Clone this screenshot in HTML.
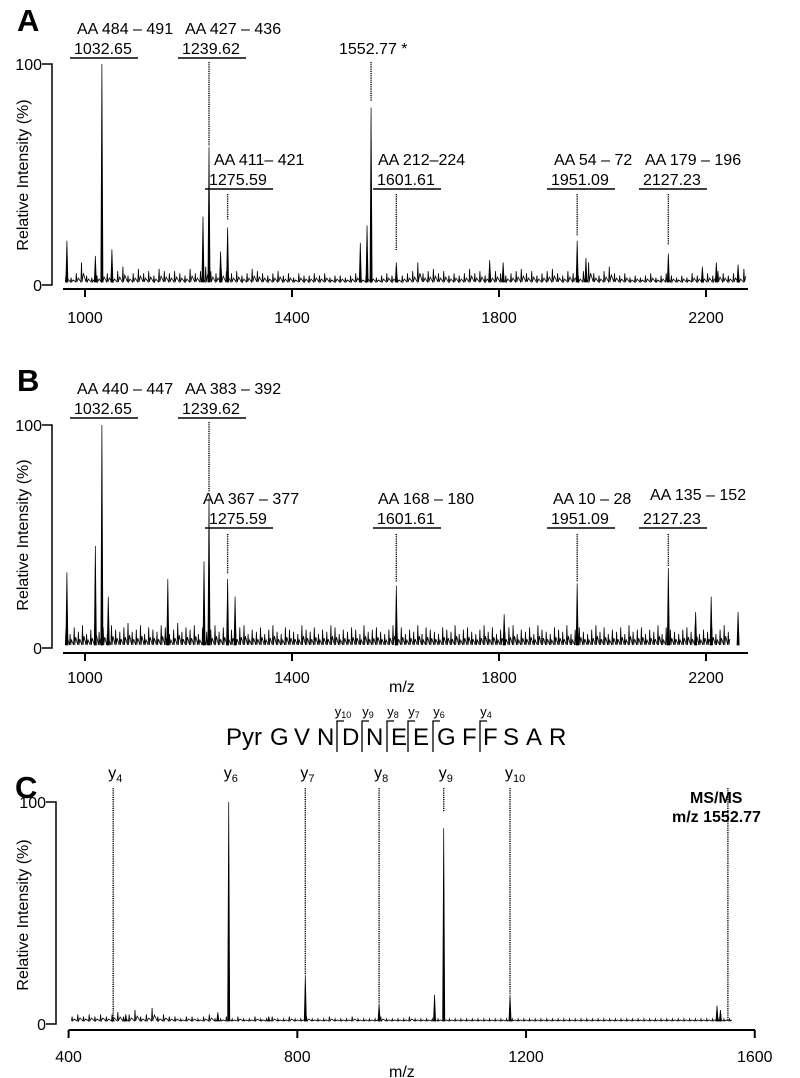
<!DOCTYPE html>
<html><head><meta charset="utf-8"><style>
html,body{margin:0;padding:0;background:#fff;}
svg{display:block;font-family:"Liberation Sans",Arial,sans-serif;}
</style></head><body>
<svg id="fig" width="800" height="1078" viewBox="0 0 800 1078" xmlns="http://www.w3.org/2000/svg">
<g id="static" fill="#000" font-size="15">
 <text x="17" y="31" font-size="31" font-weight="bold">A</text>
 <text x="17" y="391" font-size="31" font-weight="bold">B</text>
 <text x="15" y="798" font-size="31" font-weight="bold">C</text>
</g>
<g id="plots"></g>
</svg>
<script>
// ---- data ----
const tickA = [1000, 1400, 1800, 2200];
const tickC = [400, 800, 1200, 1600];
const peakMzA = [1032.65, 1239.62, 1275.59, 1552.77, 1601.61, 1951.09, 2127.23, 965, 1020, 1052, 1228, 1262, 1532, 1545, 1782, 1808, 1968, 2193, 2220, 2262];
const peakIntA = [100, 62, 25, 80, 9, 19, 13, 19, 12, 15, 30, 14, 18, 26, 10, 9, 11, 7, 9, 8];
const peakMzB = [1032.65, 1239.62, 1275.59, 1601.61, 1951.09, 2127.23, 965, 1020, 1045, 1160, 1230, 1290, 1810, 2180, 2210, 2262];
const peakIntB = [100, 67, 30, 27, 28, 35, 33, 45, 22, 30, 38, 22, 14, 15, 22, 15];
const peakMzC = [478, 680, 814, 943, 1040, 1056, 1172, 661, 1534, 1540, 500, 750];
const peakIntC = [1, 100, 21, 8, 12, 88, 12, 4, 7, 5, 3, 2];
const noiseStartA = 962, noiseStepA = 10;
const noiseA = [3,2,4,9,3,2,3,5,4,3,5,7,3,4,6,4,5,3,6,5,4,5,4,3,6,4,5,7,5,4,6,5,4,5,3,4,6,5,4,3,4,5,3,4,2,4,3,3,4,3,4,2,3,3,2,3,4,2,3,3,2,3,4,3,2,3,4,5,9,4,5,6,4,5,3,4,3,4,6,4,5,3,4,5,4,3,4,5,6,4,5,3,4,5,6,4,3,5,4,3,5,9,4,3,5,7,4,3,4,2,3,2,3,4,2,3,4,3,2,3,2,4,3,3,4,3,5,4,3,4,3,6];
const noiseStartB = 962, noiseStepB = 8;
const noiseB = [7,5,8,6,9,5,7,10,6,8,5,9,7,6,8,10,6,7,9,5,8,7,6,9,8,5,7,10,6,8,7,9,5,8,6,7,9,6,8,5,7,6,8,9,5,7,6,8,5,7,9,6,5,8,7,6,5,9,7,6,8,5,7,6,9,8,5,7,6,8,7,5,9,6,7,8,6,5,7,9,6,8,5,7,6,9,5,8,7,6,5,8,7,6,9,5,7,8,6,5,7,9,6,8,5,7,6,8,9,5,7,6,8,5,9,7,6,5,8,7,6,9,5,7,8,6,5,7,9,6,8,5,7,6,8,5,9,6,7,8,5,7,6,9,5,8,7,6,5,7,8,6,9,5,7,6,8,5,7,9,6];
const noiseStartC = 405, noiseStepC = 10;
const noiseC = [2,3,2,3,2,3,2,3,4,2,3,5,2,3,6,2,3,2,2,1,2,2,1,2,3,1,1,2,1,2,1,1,2,1,1,2,1,1,2,1,1,2,1,1,1,2,1,1,1,2,1,1,1,1,2,1,1,1,1,2,1,1,1,1,1,1,1,1,1,1,1,1,1,1,1,1,1,1,1,1,1,1,1,1,1,1,1,1,1,1,1,1,1,1,1,1,1,1,1,1,1,1,1,1,1,1,1,1,1,1,1,1,1,1,1,1];

// ---- helpers ----
const NS = 'http://www.w3.org/2000/svg';
const root = document.getElementById('plots');
function mk(tag, attrs, parent, txt) {
  const e = document.createElementNS(NS, tag);
  for (const k in attrs) e.setAttribute(k, attrs[k]);
  if (txt !== undefined) e.textContent = txt;
  (parent || root).appendChild(e);
  return e;
}
const xAB = mz => 85 + (mz - 1000) * 0.5175;
const xC = mz => 68.6 + (mz - 400) * 0.5718;
const FS = 16;

function panel(name, xf, y0, y100, axX, axY0, axX1, ticks, tickY, noiseStart, noiseStep, noise, pm, pi, yTitleY) {
  const g = mk('g', {});
  
  
  const yf = v => y0 - v / 100 * (y0 - y100);
  const ya = mk('path', {d: `M${axX - 10},${y100}H${axX}V${y0 + 3}H${axX - 10}`, fill: 'none', stroke: '#000', 'stroke-width': 1.5}, g);
  
  
  const t100 = mk('text', {x: axX - 10, y: y100 + 6, 'text-anchor': 'end', 'font-size': FS}, g, '100');
  
  
  const t0 = mk('text', {x: axX - 10, y: y0 + 9, 'text-anchor': 'end', 'font-size': FS}, g, '0');
  
  
  const yt = mk('text', {x: 0, y: 0, transform: `translate(28,${yTitleY}) rotate(-90)`, 'text-anchor': 'middle', 'font-size': FS}, g, 'Relative Intensity (%)');
  
  
  const xa = mk('line', {x1: name === 'panel-c' ? 68.6 : 63, y1: axY0, x2: axX1, y2: axY0, stroke: '#000', 'stroke-width': 2}, g);
  
  
  ticks.forEach(t => {
    const tl = mk('line', {x1: xf(t), y1: axY0, x2: xf(t), y2: axY0 + 8, stroke: '#000', 'stroke-width': 2}, g);
    
    
    const tx = mk('text', {x: xf(t), y: tickY, 'text-anchor': 'middle', 'font-size': FS}, g, String(t));
    
    
  });
  let d = '';
  noise.forEach((v, i) => {
    const mz = noiseStart + i * noiseStep;
    const x = xf(mz);
    const xb = xf(mz + noiseStep / 2);
    d += (i ? 'L' : 'M') + x.toFixed(1) + ',' + y0 + 'L' + (x + 0.6).toFixed(1) + ',' + yf(v).toFixed(1) + 'L' + (x + 1.2).toFixed(1) + ',' + y0 + 'L' + (xb).toFixed(1) + ',' + yf(v * 0.45).toFixed(1);
  });
  const nz = mk('path', {d: d, fill: 'none', stroke: '#000', 'stroke-width': 0.8}, g);
  
  
  pm.forEach((mz, i) => {
    const x = xf(mz);
    const p = mk('path', {d: `M${x - 1.1},${y0}L${x},${yf(pi[i])}L${x + 1.1},${y0}Z`, fill: '#000', stroke: '#000', 'stroke-width': 0.7}, g);
    
    
  });
  return g;
}

panel('panel-a', xAB, 282, 64, 52, 289, 748, tickA, 323, noiseStartA, noiseStepA, noiseA, peakMzA, peakIntA, 175);
panel('panel-b', xAB, 645, 425, 52, 653, 748, tickA, 683, noiseStartB, noiseStepB, noiseB, peakMzB, peakIntB, 535);
panel('panel-c', xC, 1021, 802, 56, 1030, 755, tickC, 1062, noiseStartC, noiseStepC, noiseC, peakMzC, peakIntC, 915);

// ---- annotations ----
function label(txt, x, y, opts) {
  const t = mk('text', Object.assign({x: x, y: y, 'font-size': FS}, opts || {}), root, txt);
  
  
  return t;
}
function mass(txt, x, y) {
  label(txt, x, y);
  const u = mk('line', {x1: x - 4, y1: y + 4, x2: x + 64, y2: y + 4, stroke: '#000', 'stroke-width': 1.6});
  
  
}
function dots(x, y1, y2) {
  const l = mk('line', {x1: x, y1: y1, x2: x, y2: y2, stroke: '#000', 'stroke-width': 1.4, 'stroke-dasharray': '1.2,1'});
  
  
}
// Panel A
label('AA 484 – 491', 77, 34); label('AA 427 – 436', 185, 34);
mass('1032.65', 74, 54); mass('1239.62', 182, 54);
label('1552.77 *', 339, 54);
dots(xAB(1239.62), 62, 146); dots(xAB(1552.77), 62, 101);
label('AA 411– 421', 214, 165); mass('1275.59', 209, 185); dots(xAB(1275.59), 194, 220);
label('AA 212–224', 378, 165); mass('1601.61', 377, 185); dots(xAB(1601.61), 194, 250);
label('AA 54 – 72', 554, 165); mass('1951.09', 551, 185); dots(xAB(1951.09), 194, 236);
label('AA 179 – 196', 645, 165); mass('2127.23', 643, 185); dots(xAB(2127.23), 194, 245);
// Panel B
label('AA 440 – 447', 77, 394); label('AA 383 – 392', 185, 394);
mass('1032.65', 74, 414); mass('1239.62', 182, 414);
dots(xAB(1239.62), 422, 492);
label('AA 367 – 377', 203, 504); mass('1275.59', 209, 524); dots(xAB(1275.59), 534, 574);
label('AA 168 – 180', 378, 504); mass('1601.61', 377, 524); dots(xAB(1601.61), 534, 582);
label('AA 10 – 28', 553, 504); mass('1951.09', 551, 524); dots(xAB(1951.09), 534, 582);
label('AA 135 – 152', 650, 500); mass('2127.23', 643, 524); dots(xAB(2127.23), 534, 566);
label('m/z', 389, 692);
// Panel C sequence
const seqL = ['Pyr', 'G', 'V', 'N', 'D', 'N', 'E', 'E', 'G', 'F', 'F', 'S', 'A', 'R'];
const seqX = [226, 270, 294, 317, 342, 366, 391, 413, 437, 462, 483, 503, 526, 549];
seqL.forEach((s, i) => {
  const t = mk('text', {x: seqX[i], y: 745, 'font-size': 24}, root, s);
  
  
});
const brX = [337, 362, 387, 408, 433, 480];
const brL = ['10', '9', '8', '7', '6', '4'];
brX.forEach((x, i) => {
  const b = mk('path', {d: `M${x},752V721H${x + 7}`, fill: 'none', stroke: '#000', 'stroke-width': 1.3});
  
  
  const t = mk('text', {x: x + 6, y: 716, 'font-size': 13, 'text-anchor': 'middle'}, root);
  
  
  mk('tspan', {}, t, 'y');
  mk('tspan', {'font-size': 9, dy: 2}, t, brL[i]);
});
label('MS/MS', 690, 803, {'font-weight': 'bold', 'font-size': 16});
label('m/z 1552.77', 672, 822, {'font-weight': 'bold', 'font-size': 16});
const yLab = [['4', 478, 1], ['6', 680, 100], ['7', 814, 21], ['8', 943, 8], ['9', 1056, 88], ['10', 1172, 12]];
yLab.forEach(a => {
  const x = xC(a[1]);
  const t = mk('text', {x: x - 5, y: 778, 'font-size': FS}, root);
  
  
  mk('tspan', {}, t, 'y');
  mk('tspan', {'font-size': 11, dy: 4}, t, a[0]);
  const top = 1021 - a[2] / 100 * 219;
  if (a[0] !== '6') dots(x, 788, a[0] === '9' ? 812 : top);
});
dots(xC(1553), 788, 1021);
label('m/z', 389, 1077);
</script>
</body></html>
